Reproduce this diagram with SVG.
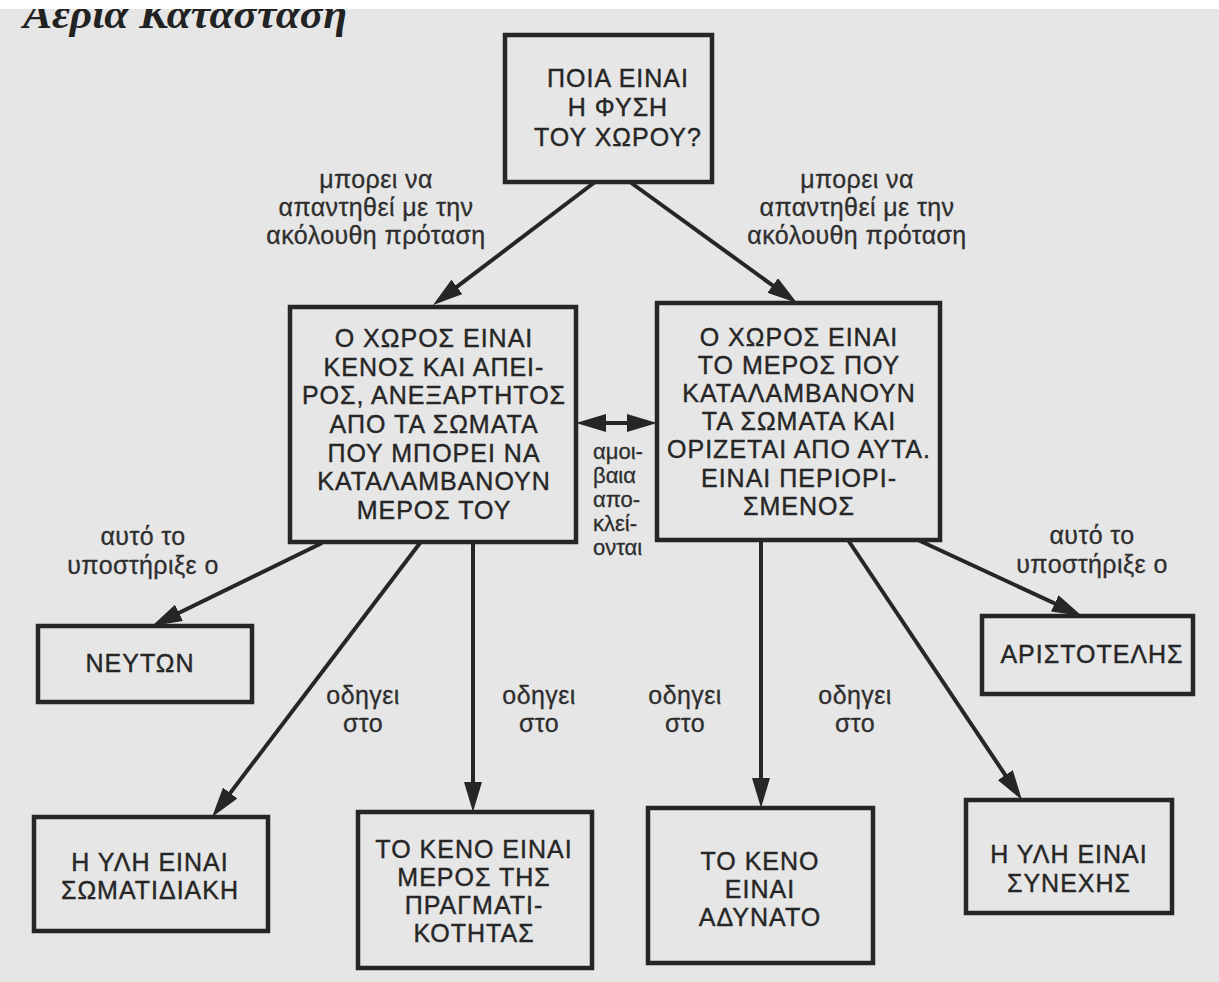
<svg xmlns="http://www.w3.org/2000/svg" width="1219" height="982" viewBox="0 0 1219 982">
  <defs>
    <style>
      .bg { fill: #e6e6e6; }
      .box { fill: none; stroke: #262626; stroke-width: 4.5; }
      .t { font-family: "Liberation Sans", Arial, "DejaVu Sans", sans-serif; font-size: 25px; fill: #262626; stroke: #262626; stroke-width: 0.4; text-anchor: middle; letter-spacing: 1px; }
      .lbl { font-family: "Liberation Sans", Arial, "DejaVu Sans", sans-serif; font-size: 25px; fill: #2e2e2e; stroke: #2e2e2e; stroke-width: 0.3; text-anchor: middle; letter-spacing: 0.4px; }
      .lbl2 { font-family: "Liberation Sans", Arial, "DejaVu Sans", sans-serif; font-size: 22px; fill: #2e2e2e; stroke: #2e2e2e; stroke-width: 0.3; }
      .edge { fill: none; stroke: #262626; stroke-width: 4; }
      .title { font-family: "Liberation Serif", "Times New Roman", serif; font-size: 40px; font-weight: bold; font-style: italic; fill: #222; }
    </style>
    <marker id="ah" viewBox="0 0 30 18" refX="18" refY="9" markerWidth="30" markerHeight="18" markerUnits="userSpaceOnUse" orient="auto-start-reverse">
      <path d="M0,0 L30,9 L0,18 z" fill="#262626"/>
    </marker>
    <clipPath id="pageclip"><rect x="0" y="9" width="1219" height="973"/></clipPath>
  </defs>

  <rect x="0" y="0" width="1219" height="982" fill="#ffffff"/>
  <rect class="bg" x="0" y="9" width="1219" height="973"/>

  <g id="title" clip-path="url(#pageclip)">
    <text class="title" x="23" y="28" textLength="324" lengthAdjust="spacingAndGlyphs">Αέρια Κατάσταση</text>
  </g>

  <g id="connectors">
    <path class="edge" d="M595,182 L442.6,297.7" marker-end="url(#ah)"/>
    <path class="edge" d="M630,182 L787.3,296" marker-end="url(#ah)"/>
    <path class="edge" d="M588,423 L645,423" marker-start="url(#ah)" marker-end="url(#ah)"/>
    <path class="edge" d="M322,543 L162.8,620.7" marker-end="url(#ah)"/>
    <path class="edge" d="M420,543 L219.3,807.4" marker-end="url(#ah)"/>
    <path class="edge" d="M473,543 L473,800" marker-end="url(#ah)"/>
    <path class="edge" d="M761,540 L761,796" marker-end="url(#ah)"/>
    <path class="edge" d="M848,540 L1015.3,790" marker-end="url(#ah)"/>
    <path class="edge" d="M918,540 L1071.1,611" marker-end="url(#ah)"/>

    <text class="lbl" x="376" y="188">μπορει να</text>
    <text class="lbl" x="376" y="216">απαντηθεί με την</text>
    <text class="lbl" x="376" y="244">ακόλουθη πρόταση</text>

    <text class="lbl" x="857" y="188">μπορει να</text>
    <text class="lbl" x="857" y="216">απαντηθεί με την</text>
    <text class="lbl" x="857" y="244">ακόλουθη πρόταση</text>

    <text class="lbl2" x="593" y="459">αμοι-</text>
    <text class="lbl2" x="593" y="483">βαια</text>
    <text class="lbl2" x="593" y="507">απο-</text>
    <text class="lbl2" x="593" y="531">κλεί-</text>
    <text class="lbl2" x="593" y="555">ονται</text>

    <text class="lbl" x="143" y="545">αυτό το</text>
    <text class="lbl" x="143" y="574">υποστήριξε ο</text>

    <text class="lbl" x="1092" y="544">αυτό το</text>
    <text class="lbl" x="1092" y="573">υποστήριξε ο</text>

    <text class="lbl" x="363" y="704">οδηγει</text>
    <text class="lbl" x="363" y="732">στο</text>
    <text class="lbl" x="539" y="704">οδηγει</text>
    <text class="lbl" x="539" y="732">στο</text>
    <text class="lbl" x="685" y="704">οδηγει</text>
    <text class="lbl" x="685" y="732">στο</text>
    <text class="lbl" x="855" y="704">οδηγει</text>
    <text class="lbl" x="855" y="732">στο</text>
  </g>

  <g id="n-question">
    <rect class="box" x="505" y="35" width="207" height="147"/>
    <text class="t" x="618" y="87">ΠΟΙΑ ΕΙΝΑΙ</text>
    <text class="t" x="618" y="116">Η ΦΥΣΗ</text>
    <text class="t" x="618" y="146">ΤΟΥ ΧΩΡΟΥ?</text>
  </g>

  <g id="n-empty-space">
    <rect class="box" x="290" y="307" width="286" height="235"/>
    <text class="t" x="434" y="347">Ο ΧΩΡΟΣ ΕΙΝΑΙ</text>
    <text class="t" x="434" y="376">ΚΕΝΟΣ ΚΑΙ ΑΠΕΙ-</text>
    <text class="t" x="434" y="404">ΡΟΣ, ΑΝΕΞΑΡΤΗΤΟΣ</text>
    <text class="t" x="434" y="433">ΑΠΟ ΤΑ ΣΩΜΑΤΑ</text>
    <text class="t" x="434" y="462">ΠΟΥ ΜΠΟΡΕΙ ΝΑ</text>
    <text class="t" x="434" y="490">ΚΑΤΑΛΑΜΒΑΝΟΥΝ</text>
    <text class="t" x="434" y="519">ΜΕΡΟΣ ΤΟΥ</text>
  </g>

  <g id="n-place">
    <rect class="box" x="657" y="303" width="283" height="237"/>
    <text class="t" x="799" y="346">Ο ΧΩΡΟΣ ΕΙΝΑΙ</text>
    <text class="t" x="799" y="374">ΤΟ ΜΕΡΟΣ ΠΟΥ</text>
    <text class="t" x="799" y="402">ΚΑΤΑΛΑΜΒΑΝΟΥΝ</text>
    <text class="t" x="799" y="430">ΤΑ ΣΩΜΑΤΑ ΚΑΙ</text>
    <text class="t" x="799" y="458">ΟΡΙΖΕΤΑΙ ΑΠΟ ΑΥΤΑ.</text>
    <text class="t" x="799" y="487">ΕΙΝΑΙ ΠΕΡΙΟΡΙ-</text>
    <text class="t" x="799" y="515">ΣΜΕΝΟΣ</text>
  </g>

  <g id="n-newton">
    <rect class="box" x="38" y="626" width="214" height="76"/>
    <text class="t" x="140" y="672">ΝΕΥΤΩΝ</text>
  </g>

  <g id="n-aristotle">
    <rect class="box" x="982" y="616" width="211" height="78"/>
    <text class="t" x="1092" y="663">ΑΡΙΣΤΟΤΕΛΗΣ</text>
  </g>

  <g id="n-particulate">
    <rect class="box" x="34" y="817" width="234" height="114"/>
    <text class="t" x="150" y="871">Η ΥΛΗ ΕΙΝΑΙ</text>
    <text class="t" x="150" y="899">ΣΩΜΑΤΙΔΙΑΚΗ</text>
  </g>

  <g id="n-void-real">
    <rect class="box" x="358" y="812" width="234" height="156"/>
    <text class="t" x="474" y="858">ΤΟ ΚΕΝΟ ΕΙΝΑΙ</text>
    <text class="t" x="474" y="886">ΜΕΡΟΣ ΤΗΣ</text>
    <text class="t" x="474" y="914">ΠΡΑΓΜΑΤΙ-</text>
    <text class="t" x="474" y="942">ΚΟΤΗΤΑΣ</text>
  </g>

  <g id="n-void-impossible">
    <rect class="box" x="648" y="808" width="225" height="155"/>
    <text class="t" x="760" y="870">ΤΟ ΚΕΝΟ</text>
    <text class="t" x="760" y="898">ΕΙΝΑΙ</text>
    <text class="t" x="760" y="926">ΑΔΥΝΑΤΟ</text>
  </g>

  <g id="n-continuous">
    <rect class="box" x="966" y="800" width="206" height="113"/>
    <text class="t" x="1069" y="863">Η ΥΛΗ ΕΙΝΑΙ</text>
    <text class="t" x="1069" y="892">ΣΥΝΕΧΗΣ</text>
  </g>
</svg>
